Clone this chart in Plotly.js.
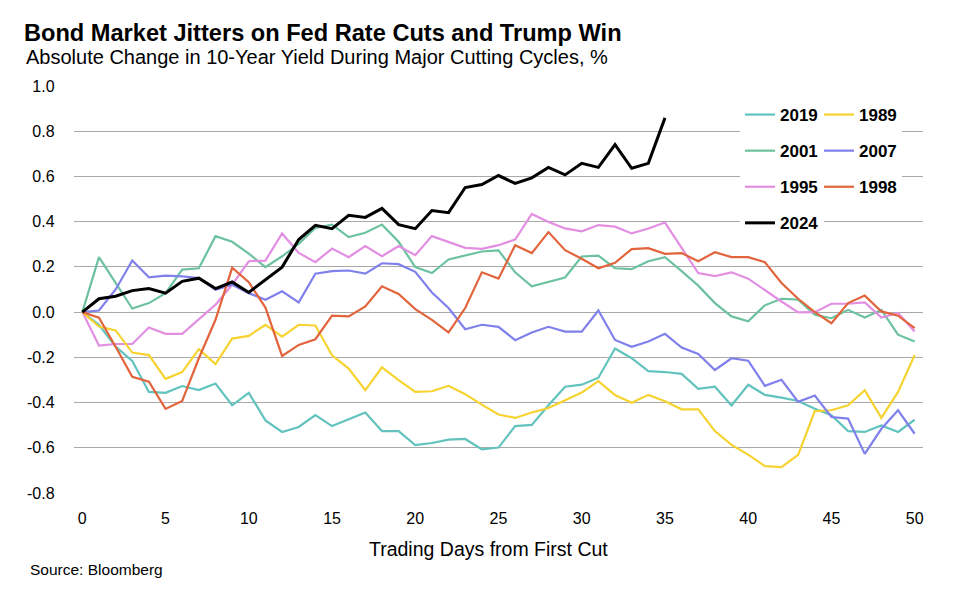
<!DOCTYPE html>
<html><head><meta charset="utf-8">
<script src="https://cdn.plot.ly/plotly-3.0.1.min.js"></script>
<style>html,body{margin:0;padding:0;background:#fff}#chart{width:960px;height:595px}</style>
</head><body><div id="chart"></div>
<script>
const days = [0,1,2,3,4,5,6,7,8,9,10,11,12,13,14,15,16,17,18,19,20,21,22,23,24,25,26,27,28,29,30,31,32,33,34,35,36,37,38,39,40,41,42,43,44,45,46,47,48,49,50];

const y2019 = [0,-0.056,-0.153,-0.216,-0.353,-0.357,-0.327,-0.345,-0.316,-0.412,-0.357,
  -0.479,-0.53,-0.508,-0.455,-0.504,-0.474,-0.444,-0.526,-0.526,-0.588,-0.579,-0.564,
  -0.561,-0.607,-0.599,-0.504,-0.499,-0.412,-0.33,-0.321,-0.29,-0.161,-0.204,
  -0.261,-0.265,-0.273,-0.339,-0.33,-0.413,-0.321,-0.366,-0.378,-0.393,-0.427,-0.456,-0.526,-0.53,-0.501,-0.53,-0.476];
const y1989 = [0,-0.064,-0.081,-0.179,-0.19,-0.295,-0.265,-0.164,-0.23,-0.117,-0.105,
  -0.056,-0.108,-0.056,-0.059,-0.191,-0.25,-0.345,-0.244,-0.301,-0.353,-0.35,-0.326,
  -0.363,-0.409,-0.453,-0.468,-0.444,-0.424,-0.39,-0.356,-0.305,-0.367,-0.401,
  -0.366,-0.394,-0.43,-0.43,-0.526,-0.587,-0.63,-0.681,-0.686,-0.631,-0.438,-0.434,-0.412,-0.345,-0.468,-0.353,-0.19];
const y2001 = [0,0.243,0.129,0.016,0.04,0.084,0.188,0.194,0.336,0.311,0.259,
  0.199,0.247,0.302,0.372,0.387,0.332,0.351,0.387,0.311,0.199,0.173,0.233,
  0.252,0.268,0.273,0.176,0.114,0.132,0.153,0.246,0.25,0.194,0.19,
  0.225,0.243,0.181,0.117,0.04,-0.019,-0.041,0.03,0.059,0.055,-0.012,-0.027,0.01,-0.024,0.01,-0.1,-0.13];
const y2007 = [0,0.007,0.1,0.228,0.154,0.161,0.158,0.151,0.099,0.121,0.084,
  0.055,0.092,0.043,0.17,0.181,0.184,0.17,0.216,0.212,0.178,0.087,0.018,
  -0.076,-0.056,-0.065,-0.124,-0.09,-0.065,-0.086,-0.086,0.007,-0.123,-0.153,
  -0.13,-0.096,-0.157,-0.185,-0.256,-0.204,-0.215,-0.326,-0.299,-0.397,-0.369,-0.464,-0.471,-0.627,-0.516,-0.434,-0.538];
const y1995 = [0,-0.148,-0.141,-0.141,-0.068,-0.096,-0.096,-0.031,0.033,0.121,0.225,
  0.228,0.348,0.262,0.221,0.281,0.243,0.292,0.247,0.292,0.252,0.336,0.31,
  0.284,0.28,0.296,0.321,0.434,0.399,0.37,0.357,0.385,0.378,0.348,
  0.37,0.396,0.284,0.173,0.159,0.176,0.148,0.096,0.047,-0.001,0,0.037,0.037,0.043,-0.024,-0.004,-0.086];
const y1998 = [0,-0.025,-0.153,-0.286,-0.308,-0.428,-0.393,-0.204,-0.034,0.196,0.132,
  0.02,-0.194,-0.145,-0.12,-0.016,-0.019,0.025,0.114,0.08,0.013,-0.034,-0.09,
  0.018,0.176,0.148,0.296,0.261,0.354,0.274,0.236,0.194,0.218,0.279,
  0.283,0.258,0.261,0.225,0.265,0.243,0.243,0.221,0.129,0.059,0,-0.049,0.04,0.073,0.003,-0.016,-0.071];
const y2024 = [0,0.059,0.07,0.095,0.104,0.084,0.136,0.15,0.104,0.133,0.087,
  0.144,0.199,0.321,0.384,0.369,0.428,0.419,0.459,0.387,0.369,0.449,0.44,
  0.551,0.564,0.604,0.569,0.594,0.64,0.607,0.658,0.64,0.741,0.636,
  0.658,0.859];

const xTickVals = [0,5,10,15,20,25,30,35,40,45,50];
const yTickVals = [-0.8,-0.6,-0.4,-0.2,0,0.2,0.4,0.6,0.8,1.0];
const yTickText = ['-0.8','-0.6','-0.4','-0.2','0.0','0.2','0.4','0.6','0.8','1.0'];

const seriesData = {'2019':y2019,'2001':y2001,'1995':y1995,'2024':y2024,'1989':y1989,'2007':y2007,'1998':y1998};
const colors = {'2019':'#62C3BE','2001':'#6CC29E','1995':'#E28FE2','2024':'#000000','1989':'#F6D330','2007':'#8080EC','1998':'#E2643C'};
const legendOf = {'2019':'legend','2001':'legend','1995':'legend','2024':'legend','1989':'legend2','2007':'legend2','1998':'legend2'};

const sans = 'Liberation Sans, Arial, Helvetica, sans-serif';

const traceOrder = ['2019','2001','1995','2024','1989','2007','1998'];
const traces = traceOrder.map(n => ({
  type:'scatter', mode:'lines', name:n,
  x: days.slice(0, seriesData[n].length), y: seriesData[n],
  line:{color:colors[n], width: n==='2024'?3:2.2},
  legend: legendOf[n], legendgroup:n,
  zorder: n==='2024' ? 2 : 0,
  hoverinfo:'x+y+name'
}));

const layout = {
  width:960, height:595,
  paper_bgcolor:'#fff', plot_bgcolor:'#fff',
  margin:{l:74, r:37, t:86, b:102},
  font:{family:sans, color:'#000'},
  title:{text:'<b>Bond Market Jitters on Fed Rate Cuts and Trump Win</b>',
    font:{family:sans, size:23.6, color:'#000'},
    x:24/960, xanchor:'left', xref:'container',
    y:1-33/595, yanchor:'middle', yref:'container'},
  annotations:[
    {text:'Absolute Change in 10-Year Yield During Major Cutting Cycles, %', xref:'paper', yref:'paper',
     x:(24-74)/849, xanchor:'left', y:1+(86-57)/407, yanchor:'middle', showarrow:false,
     font:{family:sans, size:20, color:'#000'}},
    {text:'Trading Days from First Cut', xref:'paper', yref:'paper',
     x:(488-74)/849, xanchor:'center', y:-(549-493)/407, yanchor:'middle', showarrow:false,
     font:{family:sans, size:19.5, color:'#000'}},
    {text:'Source: Bloomberg', xref:'paper', yref:'paper',
     x:(28-74)/849, xanchor:'left', y:-(569-493)/407, yanchor:'middle', showarrow:false,
     font:{family:sans, size:15.5, color:'#000'}}
  ],
  xaxis:{range:[-0.5,50.5], tickmode:'array', tickvals:xTickVals, ticks:'',
    showgrid:false, zeroline:false, showline:true, linecolor:'#A9A9A9', linewidth:1.2, mirror:true,
    tickfont:{family:sans, size:16, color:'#000'}, ticklabelstandoff:11},
  yaxis:{range:[-0.8,1.0], tickmode:'array', tickvals:yTickVals, ticktext:yTickText, ticks:'',
    showgrid:true, gridcolor:'#A9A9A9', gridwidth:1.2, zeroline:false,
    showline:true, linecolor:'#A9A9A9', linewidth:1.2, mirror:true,
    tickfont:{family:sans, size:16, color:'#000'}, ticklabelstandoff:15},
  legend:{x:(740-74)/849, xanchor:'left', y:1-(97-86)/407, yanchor:'top',
    bgcolor:'#fff', borderwidth:0, tracegroupgap:11,
    font:{family:sans, size:17, color:'#000', weight:'bold'}},
  legend2:{x:(819-74)/849, xanchor:'left', y:1-(97-86)/407, yanchor:'top',
    bgcolor:'#fff', borderwidth:0, tracegroupgap:11,
    font:{family:sans, size:17, color:'#000', weight:'bold'}},
  showlegend:true
};

Plotly.newPlot('chart', traces, layout, {displayModeBar:false, staticPlot:true});
</script></body></html>
